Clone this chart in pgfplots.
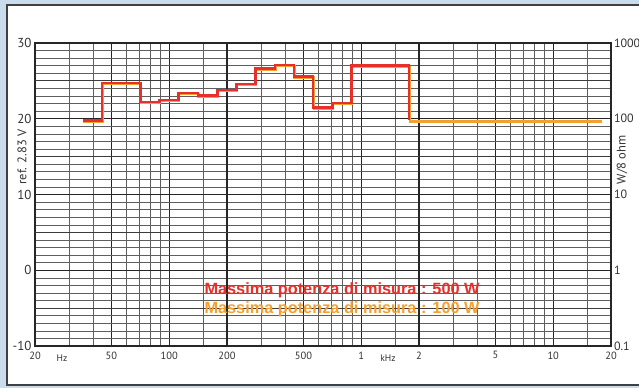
\documentclass[border=0pt]{standalone}
\usepackage{pgfplots}
\pgfplotsset{compat=1.18}
\usepackage{fontspec}
\setmainfont{PT Sans}
\newfontfamily\legendfont{Liberation Sans}

\definecolor{pagebg}{HTML}{C9DCEE}
\definecolor{gridmajor}{HTML}{262626}
\definecolor{gridmid}{HTML}{3C3C3C}
\definecolor{gridminor}{HTML}{5E5E5E}
\definecolor{curvered}{HTML}{E8302A}
\definecolor{curveorange}{HTML}{F4A030}
\definecolor{labelgray}{HTML}{333333}

% Maximum power per third-octave band, dB re 2.83 V (step curve)
\pgfplotstableread{
f      db
35.5   19.8
44.7   24.7
70.8   22.2
89.1   22.5
112    23.4
141    23.1
178    23.8
224    24.6
282    26.6
355    27.1
447    25.6
562    21.5
708    22.1
891    27.0
1778   19.8
}\maxfivehundred

\pgfplotstableread{
f      db
35.5   19.8
44.7   24.7
70.8   22.2
89.1   22.5
112    23.4
141    23.1
178    23.8
224    24.6
282    26.6
355    27.1
447    25.6
562    21.5
708    22.1
891    27.0
1778   19.8
17780  19.8
}\maxonehundred

\begin{document}
\begin{tikzpicture}[x=1pt,y=1pt]
\path[use as bounding box] (0pt,0pt) rectangle (639pt,388pt);
\begin{scope}
\clip (0pt,0pt) rectangle (639pt,388pt);
\fill[pagebg] (0pt,0pt) rectangle (639pt,388pt);
\fill[white] (7pt,3pt) rectangle (660pt,383pt);
\draw[line width=1.5pt, black!75] (660pt,3pt) -- (7pt,3pt) -- (7pt,383pt) -- (660pt,383pt);

\begin{axis}[
  at={(35pt,42pt)}, anchor=south west,
  scale only axis, width=576pt, height=303pt,
  xmode=log, xmin=20, xmax=20000, ymin=-10, ymax=30,
  axis line style={line width=1.2pt, gridmajor},
  xtick={20,50,100,200,500,1000,2000,5000,10000,20000},
  xticklabels={20,50,100,200,500,1,2,5,10,20},
  minor xtick={30,40,60,70,80,90,150,300,400,600,700,800,900,1500,3000,4000,6000,7000,8000,9000,15000},
  ytick={-10,0,10,20,30},
  minor ytick={-9,-8,-7,-6,-4,-3,-2,-1,1,2,3,4,6,7,8,9,11,12,13,14,16,17,18,19,21,22,23,24,26,27,28,29},
  extra y ticks={-5,5,15,25},
  extra y tick labels={},
  extra y tick style={major grid style={line width=0.8pt, gridmid}},
  extra x ticks={200,2000},
  extra x tick labels={},
  extra x tick style={major grid style={line width=1.7pt, gridmajor}},
  grid=both,
  major grid style={line width=1.1pt, gridmajor},
  minor grid style={line width=0.55pt, gridminor},
  major tick length=0pt, minor tick length=0pt,
  /pgf/number format/assume math mode=true,
  xticklabel style={font=\fontsize{10.5}{12}\selectfont, text=labelgray, yshift=-2pt},
  yticklabel style={font=\fontsize{13}{15}\selectfont, text=labelgray, xshift=0pt},
  clip=false,
]
\addplot[const plot, curveorange, line width=2.4pt, xshift=0.6pt, yshift=-1.1pt] table[x=f, y=db] {\maxonehundred};
\addplot[const plot, curvered, line width=2.6pt] table[x=f, y=db] {\maxfivehundred};
\end{axis}

\begin{axis}[
  at={(35pt,42pt)}, anchor=south west,
  scale only axis, width=576pt, height=303pt,
  xmode=log, xmin=20, xmax=20000,
  ymode=log, ymin=0.1, ymax=1000,
  axis x line=none, axis y line*=right,
  axis line style={line width=1.2pt, gridmajor},
  ytick={0.1,1,10,100,1000},
  yticklabels={0.1,1,10,100,1000},
  minor ytick={},
  major tick length=0pt, minor tick length=0pt,
  /pgf/number format/assume math mode=true,
  yticklabel style={font=\fontsize{12}{14}\selectfont, text=labelgray, xshift=-0.5pt},
]
\end{axis}

\node[font=\fontsize{9.5}{11}\selectfont, text=labelgray] at (62pt,30pt) {Hz};
\node[font=\fontsize{9.5}{11}\selectfont, text=labelgray] at (388pt,30pt) {kHz};
\node[rotate=90, font=\fontsize{12.5}{14}\selectfont, text=labelgray] at (22pt,231pt) {ref. 2.83 V};
\node[rotate=90, font=\fontsize{12.5}{14}\selectfont, text=labelgray] at (622pt,228pt) {W/8 ohm};

\node[anchor=base west, text=curvered, font=\legendfont\bfseries\fontsize{16.3}{19}\selectfont] at (201pt,93pt) {Massima potenza di misura : 500 W};
\node[anchor=base west, text=curveorange, font=\legendfont\bfseries\fontsize{16.3}{19}\selectfont] at (201pt,74.5pt) {Massima potenza di misura : 100 W};
\end{scope}
\end{tikzpicture}
\end{document}
